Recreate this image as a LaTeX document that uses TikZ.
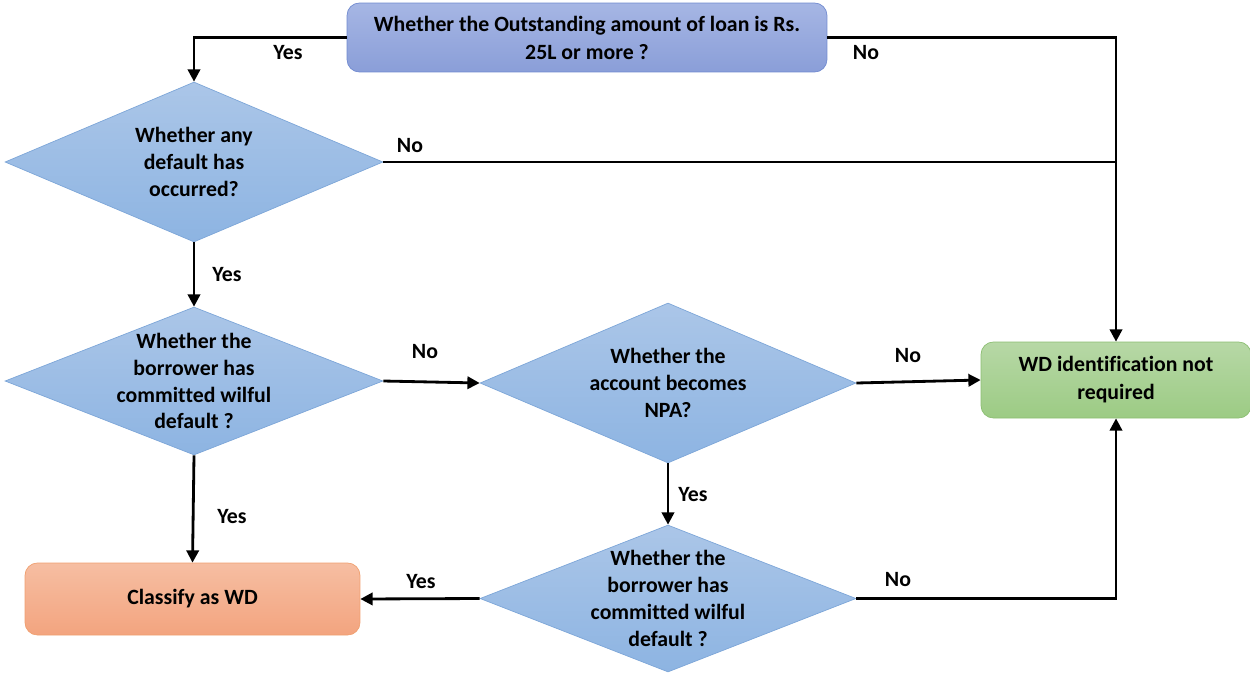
\documentclass[tikz,border=0pt]{standalone}
\usepackage{fontspec}
\setmainfont[Ligatures=NoCommon]{Carlito}
\usetikzlibrary{shapes,arrows.meta,positioning}

\tikzset{
  question/.style={diamond, draw=dmline, top color=dmtop, bottom color=dmbot,
    inner sep=0pt},
  qtext/.style={align=center, font=\bfseries\fontsize{12.4}{15.3}\selectfont},
  endbox/.style={rectangle, rounded corners=7pt, inner sep=0pt, align=center,
    font=\bfseries\fontsize{12.4}{16}\selectfont},
  link/.style={line width=1.6pt, -{Triangle[length=7pt,width=7pt]}},
  plain/.style={line width=1.6pt},
  lbl/.style={font=\bfseries\fontsize{12.4}{14}\selectfont}
}

\begin{document}
\begin{tikzpicture}[x=0.02cm, y=-0.02cm]
    % Define colors for the boxes
    \definecolor{dmtop}{RGB}{171,198,232}
    \definecolor{dmbot}{RGB}{141,180,226}
    \definecolor{dmline}{RGB}{125,166,216}
    \definecolor{qtop}{RGB}{166,182,228}
    \definecolor{qbot}{RGB}{138,158,216}
    \definecolor{qline}{RGB}{112,138,208}
    \definecolor{gtop}{RGB}{183,216,166}
    \definecolor{gbot}{RGB}{156,203,132}
    \definecolor{gline}{RGB}{140,190,114}
    \definecolor{otop}{RGB}{246,190,162}
    \definecolor{obot}{RGB}{243,164,127}
    \definecolor{oline}{RGB}{240,160,112}

    \useasboundingbox (0,0) rectangle (1250,673);

    % Top question
    \node[endbox, draw=qline, top color=qtop, bottom color=qbot,
      minimum width=9.6cm, minimum height=1.38cm] (q0) at (587,37.5)
      {Whether the Outstanding amount of loan is Rs.\\25L or more ?};

    % Decision diamonds
    \node[question, minimum width=7.56cm, minimum height=3.2cm,
      label={[qtext]center:Whether any\\default has\\occurred?}] (d1) at (194,162) {};
    \node[question, minimum width=7.56cm, minimum height=2.96cm,
      label={[qtext]center:Whether the\\borrower has\\committed wilful\\default ?}] (d2) at (194,381) {};
    \node[question, minimum width=7.52cm, minimum height=3.2cm,
      label={[qtext]center:Whether the\\account becomes\\NPA?}] (d3) at (668,383) {};
    \node[question, minimum width=7.52cm, minimum height=2.94cm,
      label={[qtext]center:Whether the\\borrower has\\committed wilful\\default ?}] (d4) at (668,598.5) {};

    % Outcomes
    \node[endbox, draw=gline, top color=gtop, bottom color=gbot,
      minimum width=5.4cm, minimum height=1.52cm] (wd) at (1116,380)
      {WD identification not\\required};
    \node[endbox, draw=oline, top color=otop, bottom color=obot,
      minimum width=6.7cm, minimum height=1.44cm] (cl) at (192.5,599)
      {Classify as WD};

    % Arrows
    \draw[link] (q0.west) -| (d1.north);
    \draw[link] (q0.east) -| (wd.north);
    \draw[plain] (d1.east) -- (d1.east -| wd.north);
    \draw[link] (d1.south) -- (d2.north);
    \draw[link] (d2.east) -- (d3.west);
    \draw[link] (d3.east) -- (wd.west);
    \draw[link] (d3.south) -- (d4.north);
    \draw[link] (d2.south) -- (cl.north);
    \draw[link] (d4.west) -- (cl.east);
    \draw[link] (d4.east) -| (wd.south);

    % Labels
    \node[lbl] (y1) at (288,53) {Yes};
    \node[lbl] (n1) at (866,53) {No};
    \node[lbl] (n2) at (410,146) {No};
    \node[lbl] (y2) at (227,275) {Yes};
    \node[lbl] (n3) at (425,352) {No};
    \node[lbl] (n4) at (908,356) {No};
    \node[lbl] (y3) at (693,495) {Yes};
    \node[lbl] (y4) at (232,517) {Yes};
    \node[lbl] (y5) at (421,582) {Yes};
    \node[lbl] (n5) at (898,580) {No};

\end{tikzpicture}
\end{document}
